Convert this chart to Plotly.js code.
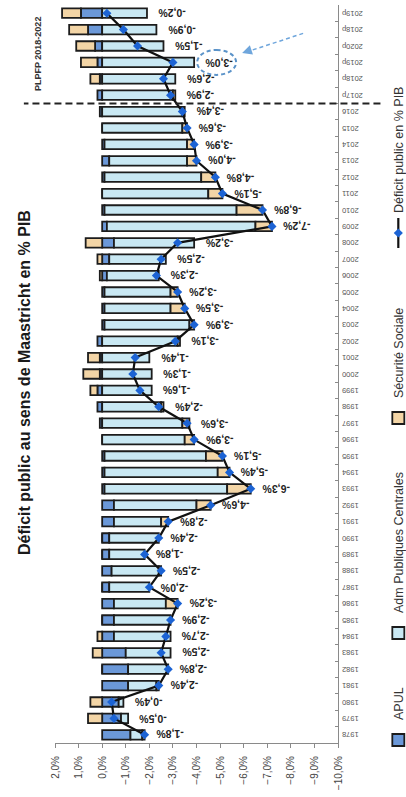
<!DOCTYPE html>
<html>
<head>
<meta charset="utf-8">
<script src="https://cdn.plot.ly/plotly-3.0.1.min.js"></script>
<style>
  html, body { margin: 0; padding: 0; width: 406px; height: 797px; overflow: hidden; background: #fff; }
  /* the chart is laid out landscape and turned a quarter turn to fit the portrait page */
  #chart { position: absolute; left: 0; top: 0; width: 797px; height: 406px;
           transform-origin: 0 0; transform: translate(0, 797px) rotate(-90deg); }
</style>
</head>
<body>
<div id="chart"></div>
<script>
// Années (p = prévision PLPFP)
const years = ['1978','1979','1980','1981','1982','1983','1984','1985','1986','1987',
  '1988','1989','1990','1991','1992','1993','1994','1995','1996','1997',
  '1998','1999','2000','2001','2002','2003','2004','2005','2006','2007',
  '2008','2009','2010','2011','2012','2013','2014','2015','2016',
  '2017p','2018p','2019p','2020p','2018p','2019p'];

// Solde des administrations publiques locales (% PIB)
const apul = [-1.2,-0.8,-0.7,-1.1,-1.1,-1.0,-0.5,-0.5,-0.5,-0.3,
  -0.4,-0.3,-0.3,-0.5,-0.5,-0.1,-0.1,-0.1,0.0,0.1,
  0.2,0.2,0.1,0.1,0.2,-0.1,-0.1,-0.1,-0.2,-0.3,
  -0.5,-0.2,-0.1,0.0,-0.1,-0.3,-0.1,0.0,0.1,
  0.2,0.1,0.2,0.3,0.6,0.9];

// Solde des administrations publiques centrales (% PIB)
const apuc = [-0.5,-0.3,-0.2,-1.2,-1.7,-1.9,-2.4,-2.4,-2.2,-1.7,
  -2.0,-1.5,-2.1,-2.0,-3.5,-5.2,-4.8,-4.3,-3.5,-3.4,
  -2.5,-2.1,-2.1,-2.0,-3.2,-3.6,-2.8,-2.8,-2.2,-2.4,
  -3.4,-6.3,-5.6,-4.5,-4.1,-3.3,-3.5,-3.4,-3.4,
  -3.0,-3.1,-3.9,-2.6,-2.3,-1.9];

// Solde de la Sécurité sociale (% PIB)
const asso = [-0.1,0.6,0.5,-0.1,0.0,0.4,0.2,0.0,-0.5,0.0,
  -0.1,0.0,0.0,-0.3,-0.6,-1.0,-0.5,-0.7,-0.4,-0.3,
  -0.1,0.3,0.7,0.5,-0.1,-0.2,-0.6,-0.3,0.1,0.2,
  0.7,-0.7,-1.1,-0.6,-0.6,-0.4,-0.3,-0.2,-0.1,
  -0.1,0.4,0.7,0.8,0.8,0.8];

// Déficit public total au sens de Maastricht (% PIB)
const deficit = [-1.8,-0.5,-0.4,-2.4,-2.8,-2.5,-2.7,-2.9,-3.2,-2.0,
  -2.5,-1.8,-2.4,-2.8,-4.6,-6.3,-5.4,-5.1,-3.9,-3.6,
  -2.4,-1.6,-1.3,-1.4,-3.1,-3.9,-3.5,-3.2,-2.3,-2.5,
  -3.2,-7.2,-6.8,-5.1,-4.8,-4.0,-3.9,-3.6,-3.4,
  -2.9,-2.6,-3.0,-1.5,-0.9,-0.2];

const periodLabel = 'PLPFP 2018-2022';
const highlightYear = 41;   // position du point entouré (2019p)

const FONT = '"Liberation Sans", Arial, sans-serif';
const idx = years.map((_, i) => i);
const firstForecast = years.indexOf('2017p');

const barLine = { color: '#1c1c1c', width: 1.8 };
const traces = [
  { type: 'bar', name: 'APUL', x: idx, y: apul, legend: 'legend',
    marker: { color: '#6b98d8', line: barLine } },
  { type: 'bar', name: 'Adm Publiques Centrales', x: idx, y: apuc, legend: 'legend2',
    marker: { color: '#c9e8f3', line: barLine } },
  { type: 'bar', name: 'Sécurité Sociale', x: idx, y: asso, legend: 'legend3',
    marker: { color: '#f3d5a6', line: barLine } },
  { type: 'scatter', mode: 'lines+markers', name: 'Déficit public en % PIB', x: idx, y: deficit,
    legend: 'legend4', line: { color: '#111', width: 2.2 },
    marker: { symbol: 'diamond', size: 7, color: '#1c63d4' } }
];

// valeur la plus basse atteinte par la barre ou le point, pour poser l'étiquette juste après
const lowest = idx.map(i => {
  const neg = [apul[i], apuc[i], asso[i]].filter(v => v < 0).reduce((a, b) => a + b, 0);
  return Math.min(neg, deficit[i]);
});
const fmt = v => v.toFixed(1).replace('.', ',') + '%';

const annotations = idx.map(i => ({
  xref: 'x', yref: 'y', x: i, y: lowest[i], text: fmt(deficit[i]),
  showarrow: false, textangle: -90, xanchor: 'center', yanchor: 'top', yshift: -9,
  font: { family: FONT, size: 10.5, color: '#222', weight: 'bold' }
}));

annotations.push({
  xref: 'x', yref: 'paper', x: (firstForecast + years.length - 1) / 2, y: 1.085,
  text: periodLabel, showarrow: false,
  font: { family: FONT, size: 9, color: '#333', weight: 'bold' }
});

// pointe de la flèche vers l'étiquette entourée
annotations.push({
  xref: 'x', yref: 'y', x: highlightYear, y: lowest[highlightYear],
  xshift: 9.5, yshift: -48, text: '', showarrow: true,
  axref: 'pixel', ayref: 'pixel', ax: 2.5, ay: 7.6,
  arrowhead: 2, arrowsize: 1.3, arrowwidth: 1.5, arrowcolor: '#6fa6dc', standoff: 0
});

const shapes = [
  { type: 'line', xref: 'x', yref: 'paper', x0: firstForecast - 0.5, x1: firstForecast - 0.5,
    y0: -0.15, y1: 1.11, line: { color: '#222', width: 2, dash: '7px,4px' } },
  { type: 'circle', xref: 'x', yref: 'y', xsizemode: 'pixel', ysizemode: 'pixel',
    xanchor: highlightYear, yanchor: lowest[highlightYear],
    x0: -12.5, x1: 12.5, y0: -42, y1: -3,
    line: { color: '#5b93c9', width: 2, dash: '4px,3px' } },
  { type: 'line', xref: 'x', yref: 'y', xsizemode: 'pixel', ysizemode: 'pixel',
    xanchor: highlightYear, yanchor: lowest[highlightYear],
    x0: 29, y0: -109, x1: 11, y1: -54,
    line: { color: '#6fa6dc', width: 1.5, dash: '4px,3px' } }
];

const legendBase = {
  orientation: 'h', xref: 'container', yref: 'container', y: 0.018,
  xanchor: 'left', yanchor: 'middle', bgcolor: 'rgba(0,0,0,0)',
  font: { family: FONT, size: 12.5, color: '#333' }
};

const layout = {
  width: 797, height: 406,
  margin: { l: 54, r: 5, t: 55, b: 68 },
  paper_bgcolor: '#fff', plot_bgcolor: '#fff',
  separators: ', ',
  barmode: 'relative', bargap: 0.42,
  showlegend: true,
  font: { family: FONT },
  title: {
    text: 'Déficit public au sens de Maastricht en % PIB',
    xref: 'container', yref: 'container', x: 0.52, y: 0.94,
    xanchor: 'center', yanchor: 'middle',
    font: { family: FONT, size: 16, color: '#1a1a1a', weight: 'bold' }
  },
  xaxis: {
    range: [-0.5, years.length - 0.5],
    tickmode: 'array', tickvals: idx, ticktext: years, tickangle: -90,
    tickfont: { family: FONT, size: 7.5, color: '#555' },
    ticks: '', showline: true, linecolor: '#8a8a8a', linewidth: 1,
    showgrid: false, zeroline: false,
    minor: { tickmode: 'array', tickvals: idx.map(i => i - 0.5), ticks: 'inside',
             ticklen: 3, tickcolor: '#8a8a8a' }
  },
  yaxis: {
    range: [-10, 2], dtick: 1, tick0: 0, tickformat: '.1f', ticksuffix: '%',
    tickfont: { family: FONT, size: 10, color: '#444' },
    ticks: 'outside', ticklen: 4, tickcolor: '#8a8a8a', ticklabelstandoff: 6,
    showline: true, linecolor: '#8a8a8a', linewidth: 1,
    showgrid: false, zeroline: false
  },
  legend:  Object.assign({}, legendBase, { x: 37 / 797 }),
  legend2: Object.assign({}, legendBase, { x: 144 / 797 }),
  legend3: Object.assign({}, legendBase, { x: 359 / 797 }),
  legend4: Object.assign({}, legendBase, { x: 544 / 797 }),
  annotations: annotations,
  shapes: shapes
};

Plotly.newPlot('chart', traces, layout, { displayModeBar: false, staticPlot: true });
</script>
</body>
</html>
